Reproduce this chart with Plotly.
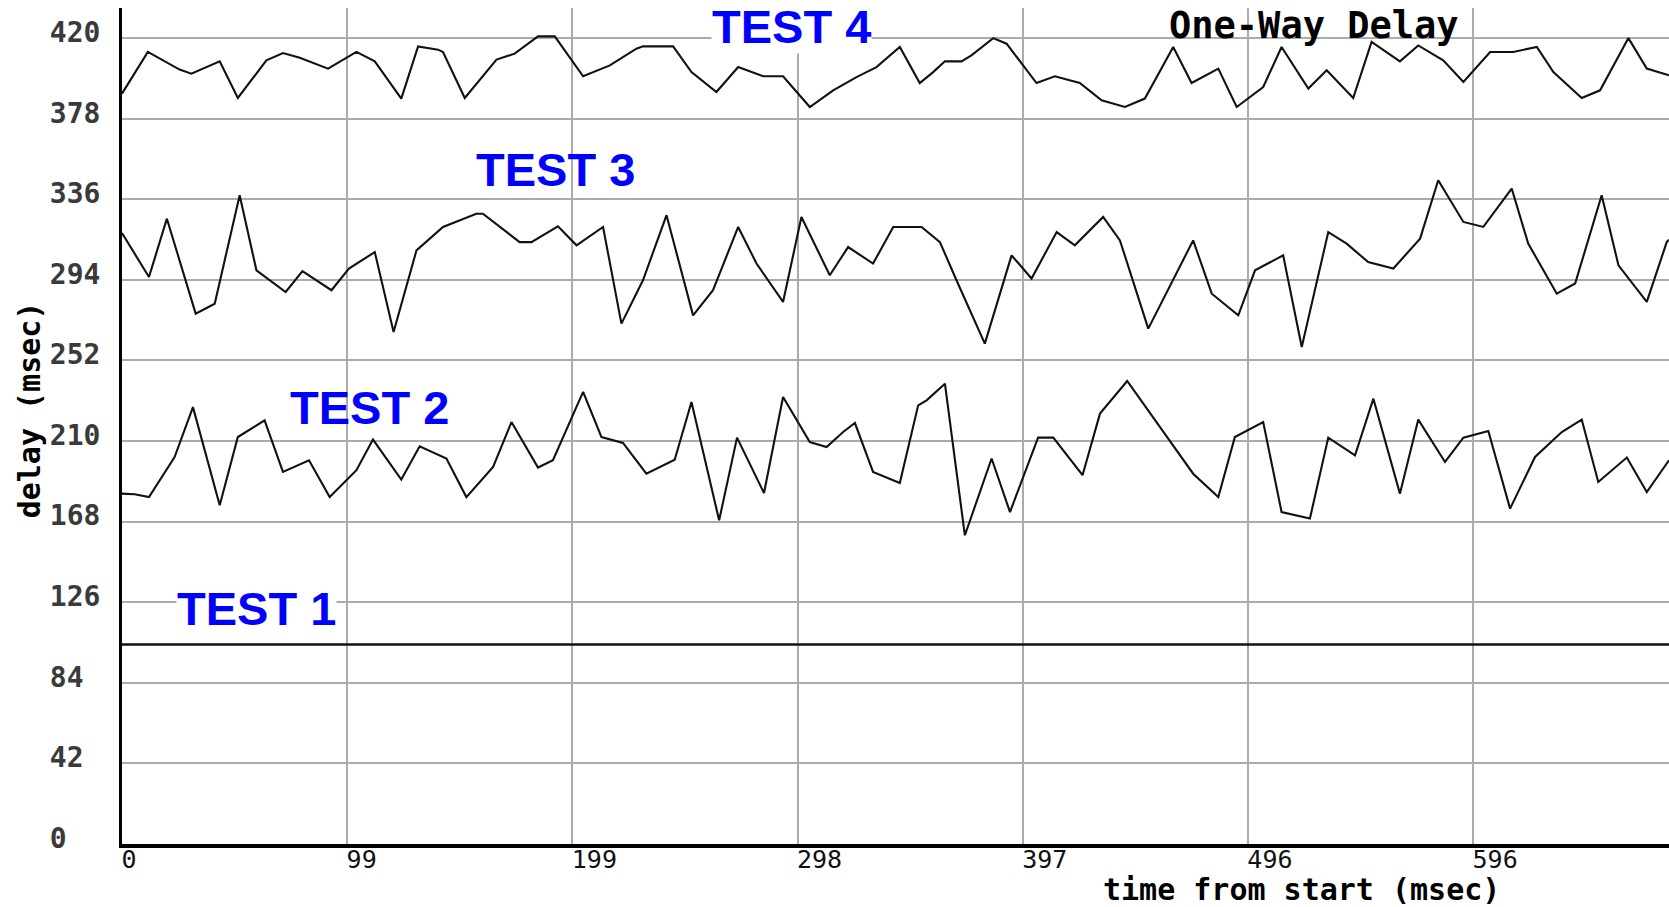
import plotly.graph_objects as go

# ---------------- data (time in msec, delay in msec) ----------------
time_1 = [0, 682.4]
delay_1 = [104, 104]

time_2 = [0, 5.6, 11.9, 23.2, 31.3, 43.1, 51.1, 62.9, 71.0, 82.5, 91.6, 103.4, 110.7, 123.2,
          131.3, 143.1, 151.9, 163.7, 171.8, 183.5, 190.1, 203.4, 211.5, 221.0, 231.3, 243.8,
          251.2, 263.4, 271.3, 283.2, 291.6, 303.4, 310.8, 318.1, 323.3, 331.3, 343.1, 351.2,
          354.9, 363.0, 371.8, 383.6, 391.7, 404.1, 410.8, 423.7, 431.4, 443.4, 472.5, 483.6,
          490.9, 503.4, 511.5, 524.0, 532.1, 543.9, 552.0, 563.7, 571.8, 583.6, 591.7, 602.7,
          612.3, 623.3, 635.1, 643.9, 651.2, 663.8, 672.6, 682.4]
delay_2 = [182.6, 182.3, 180.8, 201.7, 227.7, 176.5, 212.1, 220.8, 193.9, 200.0, 180.8, 194.8,
           210.8, 189.9, 207.3, 200.9, 180.8, 196.5, 219.9, 196.2, 200.0, 235.6, 212.1, 209.0,
           193.0, 200.3, 230.4, 168.7, 211.8, 182.9, 233.0, 209.5, 206.9, 214.7, 219.4, 193.9,
           188.1, 228.6, 231.2, 239.9, 160.9, 200.9, 173.0, 211.8, 211.8, 192.2, 224.3, 241.3,
           193.0, 180.8, 212.1, 219.9, 173.0, 169.6, 211.8, 202.6, 232.1, 182.6, 221.2, 199.1,
           211.8, 215.2, 174.8, 201.7, 214.7, 221.2, 188.7, 201.4, 183.4, 200.0]

time_3 = [0, 11.9, 19.8, 32.5, 40.9, 51.9, 59.3, 72.2, 79.6, 92.4, 100.1, 111.5, 119.8, 129.9,
          141.6, 156.3, 159.2, 166.6, 175.4, 180.6, 192.3, 200.5, 212.2, 220.3, 229.8, 240.2,
          251.9, 260.7, 271.8, 279.9, 291.6, 299.7, 312.2, 320.3, 331.3, 340.2, 352.7, 360.8,
          368.1, 380.6, 392.4, 401.2, 412.3, 420.3, 432.8, 440.2, 452.7, 472.5, 480.7, 492.4,
          499.8, 512.2, 520.4, 532.1, 540.2, 549.7, 560.8, 572.6, 580.6, 591.7, 600.5, 613.0,
          620.3, 632.9, 641.0, 652.7, 660.1, 672.6, 681.4, 682.4]
delay_3 = [318.4, 295.5, 325.9, 276.4, 281.6, 338.1, 299.0, 287.7, 298.6, 288.6, 299.9, 308.5,
           266.8, 309.4, 321.6, 328.5, 328.5, 321.6, 313.7, 313.7, 321.9, 312.0, 321.6, 271.2,
           293.8, 327.7, 275.5, 288.6, 321.6, 302.5, 282.5, 326.8, 296.4, 311.1, 302.5, 321.6,
           321.6, 313.7, 293.8, 260.8, 306.8, 294.7, 318.9, 312.0, 326.8, 314.6, 268.6, 314.6,
           286.8, 275.5, 299.0, 306.8, 259.0, 318.9, 312.9, 303.3, 299.9, 315.5, 345.9, 324.2,
           321.6, 341.6, 312.9, 286.8, 292.1, 338.1, 301.6, 282.5, 313.7, 315.0]

time_4 = [0, 11.4, 25.4, 30.6, 43.1, 51.1, 63.7, 71.0, 78.4, 90.9, 103.4, 111.5, 123.2, 130.6,
          139.4, 141.6, 151.2, 165.2, 173.2, 183.5, 190.9, 203.4, 215.2, 226.9, 229.8, 243.1,
          251.2, 262.2, 271.8, 282.8, 291.6, 303.4, 313.7, 324.0, 332.8, 343.1, 351.9, 357.8,
          363.0, 370.3, 374.7, 384.3, 390.2, 403.4, 411.5, 422.5, 432.1, 442.4, 451.2, 463.7,
          471.8, 483.6, 491.7, 503.4, 511.5, 523.3, 531.4, 543.1, 551.2, 563.7, 571.8, 582.8,
          591.7, 603.5, 613.7, 624.1, 631.4, 643.9, 652.0, 664.5, 672.6, 682.4]
delay_4 = [391.1, 412.8, 403.6, 401.5, 407.9, 388.8, 408.4, 412.2, 409.8, 404.1, 412.8, 407.9,
           388.5, 415.7, 414.0, 412.8, 388.8, 408.8, 411.9, 420.9, 420.9, 400.1, 405.8, 414.5,
           415.7, 415.7, 402.3, 391.9, 404.9, 400.1, 400.1, 384.1, 392.8, 399.7, 404.9, 415.4,
           396.6, 402.3, 407.9, 407.9, 411.0, 420.0, 417.1, 396.6, 400.1, 396.6, 387.6, 384.1,
           388.5, 415.4, 396.6, 404.1, 384.1, 394.5, 415.4, 393.7, 403.2, 388.8, 418.0, 407.9,
           416.2, 408.4, 397.1, 412.8, 412.8, 415.4, 402.3, 388.8, 392.8, 420.0, 404.1, 400.6]

series_names = ["TEST 1", "TEST 2", "TEST 3", "TEST 4"]

x_tick_vals = [0, 99.33, 198.67, 298, 397.33, 496.67, 596]
x_tick_labels = ["0", "99", "199", "298", "397", "496", "596"]
y_tick_vals = [0, 42, 84, 126, 168, 210, 252, 294, 336, 378, 420]
y_tick_labels = [str(v) for v in y_tick_vals]

chart_title = "One-Way Delay"
x_title = "time from start (msec)"
y_title = "delay (msec)"

# label anchor positions (data coordinates)
label_x = [59.2, 109.3, 191.3, 295.3]
label_y = [122.6, 227.3, 351.6, 426.2]


def pad(s, n=3):
    return s + "\u00a0" * (n - len(s))


fig = go.Figure()
for name, t, d, w in [
    (series_names[0], time_1, delay_1, 2.5),
    (series_names[1], time_2, delay_2, 2.1),
    (series_names[2], time_3, delay_3, 2.1),
    (series_names[3], time_4, delay_4, 2.1),
]:
    fig.add_trace(go.Scatter(x=t, y=d, mode="lines", name=name,
                             line=dict(color="#111111", width=w)))

grid_col = "#ababab"
fig.update_layout(
    width=1669, height=907,
    margin=dict(l=122, r=0, t=8, b=63),
    paper_bgcolor="white", plot_bgcolor="white",
    showlegend=False,
    xaxis=dict(
        range=[0, 682.4], tickmode="array", tickvals=x_tick_vals,
        ticktext=[pad(s) for s in x_tick_labels], automargin=False,
        showgrid=True, gridcolor=grid_col, gridwidth=2,
        showline=True, linecolor="black", linewidth=4, zeroline=False,
        ticks="", ticklabelshift=22, ticklabelstandoff=-10,
        tickfont=dict(family="DejaVu Sans Mono", size=25, color="#111111"),
    ),
    yaxis=dict(
        range=[0, 435.7], tickmode="array", tickvals=y_tick_vals,
        ticktext=[pad(s) for s in y_tick_labels], automargin=False,
        showgrid=True, gridcolor=grid_col, gridwidth=2,
        showline=True, linecolor="black", linewidth=3, zeroline=False,
        ticks="", ticklabelshift=-6, ticklabelstandoff=13,
        tickfont=dict(family="DejaVu Sans Mono", size=28, color="#3a3a3a", weight="bold"),
    ),
)

blue_font = dict(family="Liberation Sans", size=47, color="#0000ff", weight="bold")
for i, name in enumerate(series_names):
    bg = "white" if i in (0, 3) else "rgba(0,0,0,0)"
    fig.add_annotation(x=label_x[i], y=label_y[i], xref="x", yref="y", text=name,
                       showarrow=False, font=blue_font, bgcolor=bg, borderpad=0,
                       xanchor="center", yanchor="middle")

fig.add_annotation(x=525.8, y=426.7, xref="x", yref="y", text=chart_title, showarrow=False,
                   font=dict(family="DejaVu Sans Mono", size=37, color="black", weight="bold"),
                   xanchor="center", yanchor="middle")
fig.add_annotation(x=520.5, y=0, xref="x", yref="paper", yshift=-45, text=x_title,
                   showarrow=False,
                   font=dict(family="DejaVu Sans Mono", size=30, color="black", weight="bold"),
                   xanchor="center", yanchor="middle")
fig.add_annotation(x=0, y=226.0, xref="paper", yref="y", xshift=-93, text=y_title,
                   showarrow=False, textangle=-90,
                   font=dict(family="DejaVu Sans Mono", size=30, color="black", weight="bold"),
                   xanchor="center", yanchor="middle")

fig.write_html(
    "out.html",
    config={"displayModeBar": False},
    post_script="document.body.style.margin='0';document.body.style.overflow='hidden';",
)
